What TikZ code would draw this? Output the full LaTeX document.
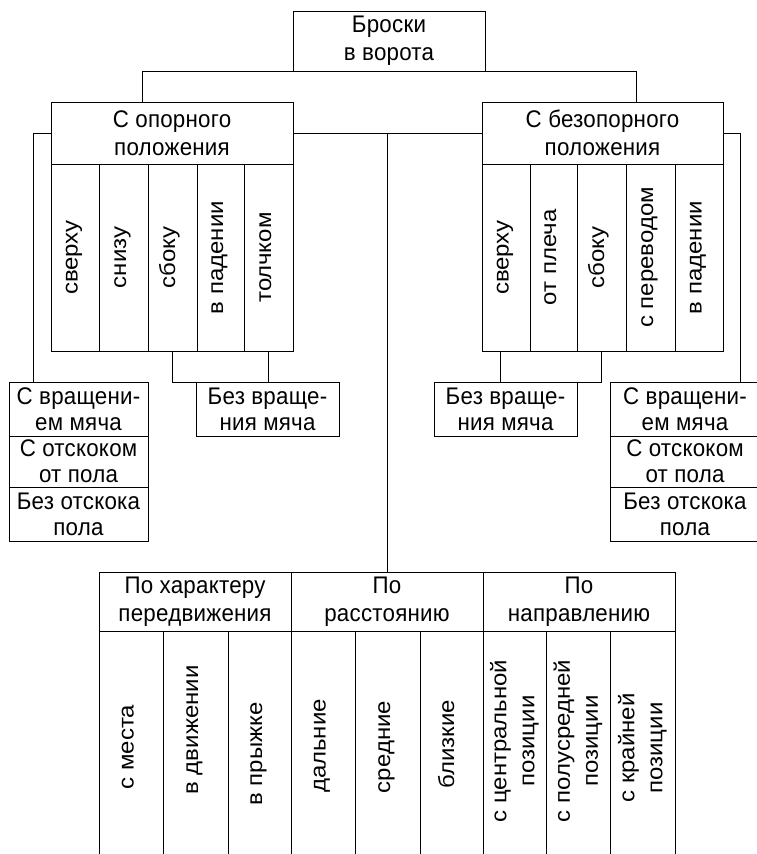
\documentclass[tikz,border=0pt]{standalone}
\usepackage{fontspec}
\setmainfont{Liberation Sans}
\newfontfamily\hf[FakeStretch=0.93,LetterSpace=1]{Liberation Sans}
\newfontfamily\vf[FakeStretch=1.09]{Liberation Sans}
\begin{document}
\begin{tikzpicture}[x=1pt,y=-1pt,line width=1pt,
  box/.style={draw, inner sep=0pt, outer sep=0pt, anchor=north west, align=center,
    font=\hf\fontsize{24}{28}\selectfont},
  lbox/.style={box, font=\hf\fontsize{24}{26}\selectfont},
  col/.style={draw, inner sep=0pt, outer sep=0pt, anchor=north west, minimum height=#1},
  vtext/.style={rotate=90, inner sep=0pt, outer sep=0pt, align=center,
    font=\vf\fontsize{22}{28}\selectfont}]
\useasboundingbox (0,0) rectangle (756,854);
\fill[white] (0,0) rectangle (756,854);
% top
\node[box, minimum width=192pt, minimum height=60pt] (top) at (293,11) {Броски\\в ворота};
\node[box, minimum width=242pt, minimum height=62pt] (op) at (51,102) {С опорного\\положения};
\node[box, minimum width=241pt, minimum height=62pt] (bez) at (482,102) {С безопорного\\положения};
% left columns
\node[col=187pt, minimum width=48pt] (l1) at (51,164) {};
\node[col=187pt, minimum width=49pt] (l2) at (99,164) {};
\node[col=187pt, minimum width=49pt] (l3) at (148,164) {};
\node[col=187pt, minimum width=47pt] (l4) at (197,164) {};
\node[col=187pt, minimum width=49pt] (l5) at (244,164) {};
\node[vtext, anchor=mid] (tl1) at (l1.center) {сверху};
\node[vtext, anchor=mid] (tl2) at (l2.center) {снизу};
\node[vtext, anchor=mid] (tl3) at (l3.center) {сбоку};
\node[vtext, anchor=mid] (tl4) at (l4.center) {в падении};
\node[vtext, anchor=mid] (tl5) at (l5.center) {толчком};
% right columns
\node[col=187pt, minimum width=48pt] (r1) at (482,164) {};
\node[col=187pt, minimum width=47pt] (r2) at (530,164) {};
\node[col=187pt, minimum width=49pt] (r3) at (577,164) {};
\node[col=187pt, minimum width=49pt] (r4) at (626,164) {};
\node[col=187pt, minimum width=48pt] (r5) at (675,164) {};
\node[vtext, anchor=mid] (tr1) at (r1.center) {сверху};
\node[vtext, anchor=mid] (tr2) at (r2.center) {от плеча};
\node[vtext, anchor=mid] (tr3) at (r3.center) {сбоку};
\node[vtext, anchor=mid] (tr4) at (r4.center) {с переводом};
\node[vtext, anchor=mid] (tr5) at (r5.center) {в падении};
% lower boxes
\node[lbox, minimum width=139pt, minimum height=54pt] (lv1) at (9,382) {С вращени-\\ем мяча};
\node[lbox, minimum width=139pt, minimum height=51pt] (lv2) at (9,436) {С отскоком\\от пола};
\node[lbox, minimum width=139pt, minimum height=54pt] (lv3) at (9,487) {Без отскока\\пола};
\node[lbox, minimum width=143pt, minimum height=54pt] (nv) at (196,382) {Без враще-\\ния мяча};
\node[lbox, minimum width=143pt, minimum height=54pt] (nvr) at (434,382) {Без враще-\\ния мяча};
\node[lbox, minimum width=150pt, minimum height=54pt] (rv1) at (610,382) {С вращени-\\ем мяча};
\node[lbox, minimum width=150pt, minimum height=51pt] (rv2) at (610,436) {С отскоком\\от пола};
\node[lbox, minimum width=150pt, minimum height=54pt] (rv3) at (610,487) {Без отскока\\пола};
% bottom table
\node[box, minimum width=192pt, minimum height=59pt] (har) at (99,572) {По характеру\\передвижения};
\node[box, minimum width=192pt, minimum height=59pt] (ras) at (291,572) {По\\расстоянию};
\node[box, minimum width=192pt, minimum height=59pt] (nap) at (483,572) {По\\направлению};
\node[col=240pt, minimum width=64pt] (b1) at (99,631) {};
\node[col=240pt, minimum width=65pt] (b2) at (163,631) {};
\node[col=240pt, minimum width=63pt] (b3) at (228,631) {};
\node[col=240pt, minimum width=64pt] (b4) at (291,631) {};
\node[col=240pt, minimum width=65pt] (b5) at (355,631) {};
\node[col=240pt, minimum width=63pt] (b6) at (420,631) {};
\node[col=240pt, minimum width=63pt] (b7) at (483,631) {};
\node[col=240pt, minimum width=64pt] (b8) at (546,631) {};
\node[col=240pt, minimum width=65pt] (b9) at (610,631) {};
\node[vtext, anchor=mid] (tb1) at (b1.center |- 0,747) {с места};
\node[vtext, anchor=mid] (tb2) at (b2.center |- 0,730) {в движении};
\node[vtext, anchor=mid] (tb3) at (b3.center |- 0,754) {в прыжке};
\node[vtext, anchor=mid] (tb4) at (b4.center |- 0,746) {дальние};
\node[vtext, anchor=mid] (tb5) at (b5.center |- 0,747) {средние};
\node[vtext, anchor=mid] (tb6) at (b6.center |- 0,744) {близкие};
\node[vtext] (tb7) at (b7.center |- 0,741) {с центральной\\позиции};
\node[vtext] (tb8) at (b8.center |- 0,741) {с полусредней\\позиции};
\node[vtext] (tb9) at (b9.center |- 0,748) {с крайней\\позиции};
% connectors
\coordinate (jl) at (142,71);
\coordinate (jr) at (636,71);
\coordinate (rb) at (500,0);
\draw (jl |- op.north) -- (jl) -- (jr) -- (jr |- bez.north);
\draw (op.east) -- (bez.west);
\draw (ras.north |- op.east) -- (ras.north);
\draw (op.west) -| ([xshift=24pt]lv1.north west);
\draw (bez.east) -| ([xshift=130pt]rv1.north west);
\draw (l3.south) |- (nv.north west);
\draw (l5.south) -- (l5.south |- nv.north);
\draw (r1.south -| rb) -- (rb |- nvr.north);
\draw (r3.south) |- (nvr.north east);
\end{tikzpicture}
\end{document}
